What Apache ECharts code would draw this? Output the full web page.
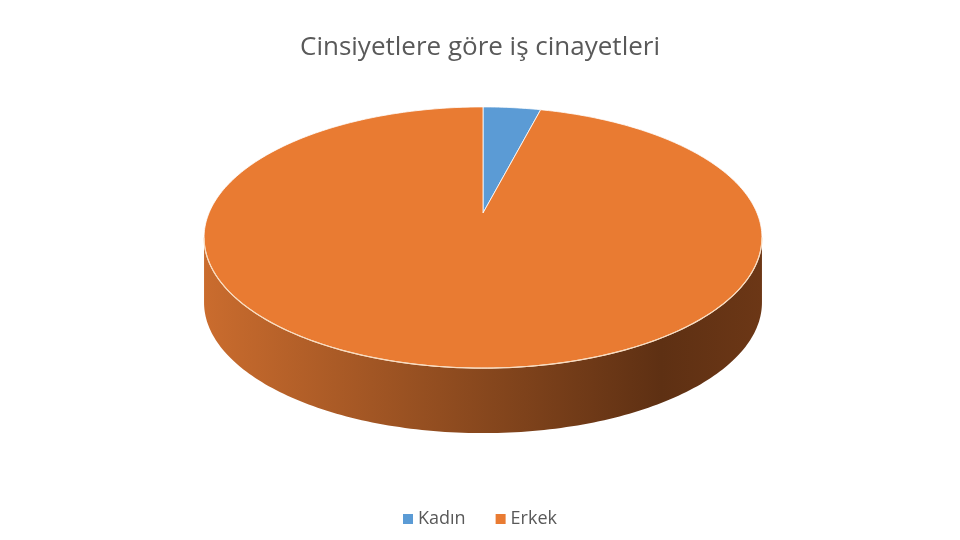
<!DOCTYPE html>
<html>
<head>
<meta charset="utf-8">
<title>Cinsiyetlere göre iş cinayetleri</title>
<script src="https://cdn.jsdelivr.net/npm/echarts@6/dist/echarts.min.js"></script>
<style>
  html, body { margin: 0; padding: 0; background: #fff; }
  #chart { width: 960px; height: 540px; }
</style>
</head>
<body>
<div id="chart"></div>
<script>
// Data
var categories = ['Kadın', 'Erkek'];
var values = [4, 96];
var colors = ['#5b9bd5', '#e97b32'];

// 3D look (perspective tilt of the pie disk)
var cx = 483, cy = 213;      // projected pie centre
var radius = 274, tiltA = 126, persp = -0.1877;
var depth = 65;
var frontFrom = 100.8, frontTo = 259.2; // visible part of the side wall

var total = values.reduce(function(a, b) { return a + b; }, 0);

// Project an angle (degrees, clockwise from top) onto the tilted disk
function project(deg) {
    var t = deg * Math.PI / 180;
    var u = Math.sin(t), v = -Math.cos(t);
    var s = 1 + persp * v;
    return [cx + radius * u / s, cy + tiltA * v / s];
}

function arc(from, to) {
    var pts = [];
    var n = Math.max(2, Math.ceil((to - from) / 1));
    for (var i = 0; i <= n; i++) {
        pts.push(project(from + (to - from) * i / n));
    }
    return pts;
}

function makeSeries(i) {
    var before = 0;
    for (var j = 0; j < i; j++) before += values[j];
    var start = before / total * 360;
    var end = (before + values[i]) / total * 360;

    return {
        type: 'custom',
        name: categories[i],
        coordinateSystem: 'none',
        color: colors[i],
        itemStyle: { color: colors[i] },
        data: [values[i]],
        renderItem: function(params, api) {
            var children = [];
            var lo = Math.max(start, frontFrom), hi = Math.min(end, frontTo);
            if (hi > lo) {
                var rim = arc(lo, hi);
                var bottom = rim.map(function(p) { return [p[0], p[1] + depth]; }).reverse();
                children.push({
                    type: 'polygon',
                    shape: { points: rim.concat(bottom) },
                    style: {
                        fill: new echarts.graphic.LinearGradient(0, 0, 1, 0, [
                            { offset: 0, color: '#ca6c2e' },
                            { offset: 0.45, color: '#8e4b1f' },
                            { offset: 0.82, color: '#5e3013' },
                            { offset: 1, color: '#6c3716' }
                        ])
                    }
                });
            }
            var top = [[cx, cy]].concat(arc(start, end));
            children.push({
                type: 'polygon',
                shape: { points: top },
                style: { fill: colors[i], stroke: '#ffffff', lineWidth: 0.8 }
            });
            if (hi > lo) {
                children.push({
                    type: 'polyline',
                    shape: { points: arc(lo, hi) },
                    style: { fill: null, stroke: '#f9dcbf', lineWidth: 1.2 }
                });
            }
            return { type: 'group', children: children };
        }
    };
}

var chart = echarts.init(document.getElementById('chart'));
chart.setOption({
    animation: false,
    backgroundColor: '#ffffff',
    title: {
        text: 'Cinsiyetlere göre iş cinayetleri',
        left: 'center',
        top: 30,
        textStyle: {
            fontFamily: 'Open Sans',
            fontSize: 26,
            fontWeight: 'normal',
            color: '#595959'
        }
    },
    legend: {
        data: categories,
        left: 'center',
        top: 505,
        icon: 'rect',
        itemWidth: 10,
        itemHeight: 10,
        itemGap: 30,
        textStyle: {
            fontFamily: 'Open Sans',
            fontSize: 18,
            color: '#595959'
        }
    },
    series: categories.map(function(c, i) { return makeSeries(i); })
});
</script>
</body>
</html>
